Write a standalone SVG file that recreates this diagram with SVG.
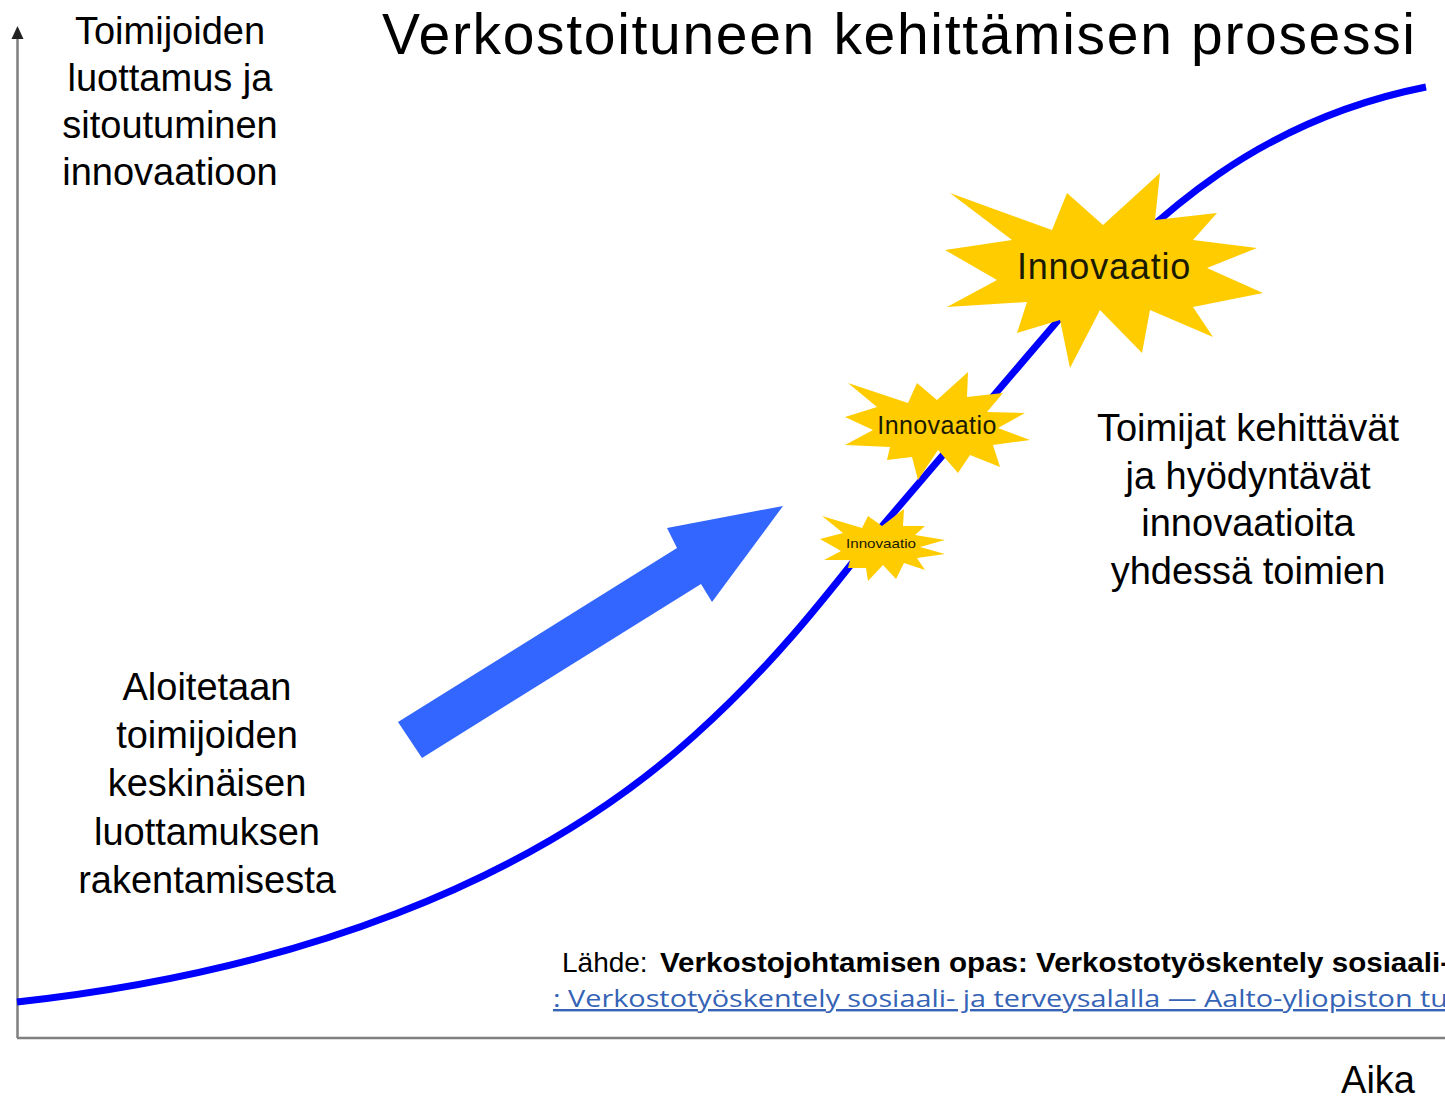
<svg xmlns="http://www.w3.org/2000/svg" width="1445" height="1100" viewBox="0 0 1445 1100">
<defs>
<style>
.t{font-family:"Liberation Sans",Arial,sans-serif;fill:#000;}
.lbl{font-size:38px;text-anchor:middle;}
.star{fill:#FFCC00;stroke:none;}
.st{font-family:"Liberation Sans",Arial,sans-serif;text-anchor:middle;fill:#1a1a00;}
.axis{stroke:#7f7f7f;stroke-width:2.5;fill:none;}
</style>
</defs>
<rect width="1445" height="1100" fill="#fff"/>
<g id="connectors">
<line class="axis" x1="17" y1="1038" x2="1445" y2="1038"/>
<line class="axis" x1="17.5" y1="1038" x2="17.5" y2="36"/>
<polygon points="17.5,26 11.5,39 23.5,39" fill="#222"/>
<path id="curve" d="M17,1002 C290,972 530,885 695,735 C770,668 825,598 872,538 L1060,318 C1160,210 1260,120 1426,87" fill="none" stroke="#0000FF" stroke-width="7"/>
<polygon id="bigArrow" points="398,722 677,548 667,528 783,506 712,602 701,584 422,758" fill="#3366FF"/>
</g>
<g id="title">
<text class="t" x="382" y="54" font-size="57" textLength="1033" lengthAdjust="spacing">Verkostoituneen kehittämisen prosessi</text>
</g>
<g id="y-label">
<text class="t lbl" x="170" y="44">Toimijoiden</text>
<text class="t lbl" x="170" y="91">luottamus ja</text>
<text class="t lbl" x="170" y="138">sitoutuminen</text>
<text class="t lbl" x="170" y="185">innovaatioon</text>
</g>
<g id="start-label">
<text class="t lbl" x="207" y="700">Aloitetaan</text>
<text class="t lbl" x="207" y="748">toimijoiden</text>
<text class="t lbl" x="207" y="796">keskinäisen</text>
<text class="t lbl" x="207" y="845">luottamuksen</text>
<text class="t lbl" x="207" y="893">rakentamisesta</text>
</g>
<g id="result-label">
<text class="t lbl" x="1248" y="441">Toimijat kehittävät</text>
<text class="t lbl" x="1248" y="489">ja hyödyntävät</text>
<text class="t lbl" x="1248" y="536">innovaatioita</text>
<text class="t lbl" x="1248" y="584">yhdessä toimien</text>
</g>
<g id="x-label">
<text class="t lbl" x="1378" y="1093">Aika</text>
</g>
<g id="star-large">
<polygon class="star" points="950,193 1052,230 1067,193 1103,225 1160,173 1155,220 1217,213 1193,240 1257,248 1207,268 1263,293 1193,307 1213,337 1150,310 1142,353 1100,310 1070,368 1060,320 1017,333 1027,302 947,307 997,280 945,250 1012,240"/>
<text class="st" x="1104" y="279" font-size="36" letter-spacing="0.8">Innovaatio</text>
</g>
<g id="star-medium">
<polygon class="star" points="848,383 908,403 917,383 937,400 968,372 967,397 1003,393 987,412 1025,413 998,428 1030,440 993,445 1000,467 970,455 958,473 938,450 918,480 912,457 887,460 890,447 845,445 873,430 845,417 877,407"/>
<text class="st" x="937" y="434" font-size="25" letter-spacing="0.4">Innovaatio</text>
</g>
<g id="star-small">
<polygon class="star" points="822,516 862,528 868,516 882,526 904,509 903,526 925,526 915,535 945,540 920,547 945,554 917,558 925,570 904,563 896,579 883,565 868,581 866,568 848,568 850,560 824,560 841,551 820,539 843,533"/>
<text class="st" x="881" y="548" font-size="13" textLength="70" lengthAdjust="spacingAndGlyphs">Innovaatio</text>
</g>
<g id="source">
<text class="t" x="562" y="972" font-size="28">Lähde:</text>
<text class="t" x="660" y="972" font-size="28" font-weight="bold" textLength="790" lengthAdjust="spacingAndGlyphs">Verkostojohtamisen opas: Verkostotyöskentely sosiaali-</text>
<text x="553" y="1007" font-family="'Open Sans','Noto Sans',sans-serif" font-size="24" fill="#3563B5" text-decoration="underline" textLength="895" lengthAdjust="spacingAndGlyphs">: Verkostotyöskentely sosiaali- ja terveysalalla — Aalto-yliopiston tu</text>
</g>
</svg>
